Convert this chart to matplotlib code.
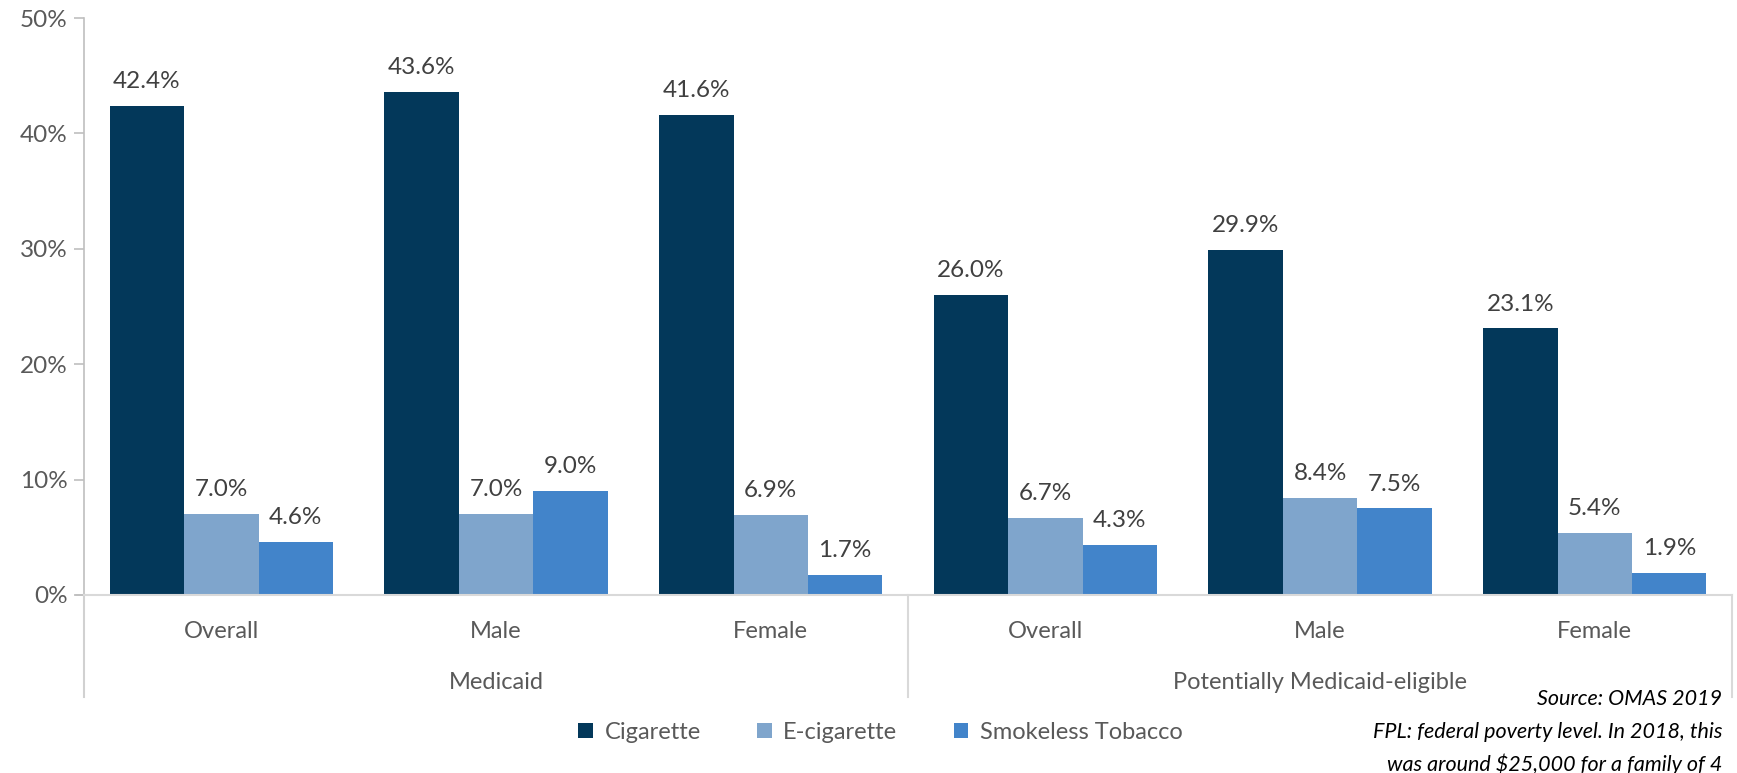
# Grouped bar chart: tobacco use by Medicaid status and sex (OMAS 2019)
import numpy as np
import matplotlib.pyplot as plt
from matplotlib.lines import Line2D
from matplotlib.patches import Patch
import matplotlib.transforms as mtransforms

plt.rcParams['font.family'] = ['Lato', 'DejaVu Sans']

# data
categories = ['Overall', 'Male', 'Female', 'Overall', 'Male', 'Female']
groups = ['Medicaid', 'Potentially Medicaid-eligible']
series = ['Cigarette', 'E-cigarette', 'Smokeless Tobacco']
cigarette = [42.4, 43.6, 41.6, 26.0, 29.9, 23.1]
ecigarette = [7.0, 7.0, 6.9, 6.7, 8.4, 5.4]
smokeless = [4.6, 9.0, 1.7, 4.3, 7.5, 1.9]
yticks = [0, 10, 20, 30, 40, 50]
source_lines = ['Source: OMAS 2019',
                'FPL: federal poverty level. In 2018, this',
                'was around $25,000 for a family of 4']

colors = ['#03385a', '#7fa5cc', '#4284ca']
txt = '#595959'

fig = plt.figure(figsize=(17.37, 7.73), dpi=100)
ax = fig.add_axes([0.0484, 0.2303, 0.9488, 0.7464])

x = np.arange(len(categories))
w = 0.271
for i, (vals, c, name) in enumerate(zip([cigarette, ecigarette, smokeless], colors, series)):
    pos = x + (i - 1) * w
    bars = ax.bar(pos, vals, width=w, color=c, label=name, zorder=2)
    for b, v in zip(bars, vals):
        ax.annotate(f'{v:.1f}%', (b.get_x() + b.get_width() / 2, v),
                    xytext=(0, 10), textcoords='offset points',
                    ha='center', va='bottom', fontsize=17.5, color='#404040')

ax.set_xlim(-0.5, len(categories) - 0.5)
ax.set_ylim(0, 50)
ax.set_yticks(yticks)
ax.set_yticklabels([f'{t}%' for t in yticks])
ax.tick_params(axis='y', length=7, width=1.2, color='#bfbfbf', labelsize=17.5,
               labelcolor=txt, pad=5)
ax.set_xticks([])

for s in ['top', 'right']:
    ax.spines[s].set_visible(False)
ax.spines['left'].set_color('#bfbfbf')
ax.spines['left'].set_linewidth(1.2)
ax.spines['bottom'].set_color('#d9d9d9')
ax.spines['bottom'].set_linewidth(1.5)

# category and group labels below the axis
trans = mtransforms.blended_transform_factory(ax.transData, ax.transAxes)
for xi, cat in zip(x, categories):
    ax.text(xi, -0.064, cat, transform=trans, ha='center', va='center',
            fontsize=17, color=txt)
for gi, g in enumerate(groups):
    ax.text(gi * 3 + 1, -0.152, g, transform=trans, ha='center', va='center',
            fontsize=17, color=txt)

# divider lines between groups
for xd in [-0.5, 2.5, 5.5]:
    ax.add_line(Line2D([xd, xd], [0, -0.177], transform=trans, color='#d9d9d9',
                       linewidth=1.5, clip_on=False))
# left axis extends down as well
ax.add_line(Line2D([-0.5, -0.5], [0, -0.177], transform=trans, color='#d0d0d0',
                   linewidth=1.2, clip_on=False))
ax.add_line(Line2D([-0.5 - 0.03, -0.5], [0, 0], transform=trans, color='#bfbfbf',
                   linewidth=1.2, clip_on=False))

# legend
handles = [Patch(facecolor=c, label=s) for c, s in zip(colors, series)]
fig.legend(handles=handles, loc='center', bbox_to_anchor=(0.507, 0.052), ncol=3,
           frameon=False, fontsize=17, handlelength=0.6, handleheight=0.6,
           handletextpad=0.5, columnspacing=2.4, labelcolor=txt)

# source note
for i, line in enumerate(source_lines):
    fig.text(0.9914, 1 - (699 + i * 32.5) / 773, line, ha='right', va='center',
             fontsize=15.5, style='italic', color='black')

fig.savefig('out.png', dpi=100)
